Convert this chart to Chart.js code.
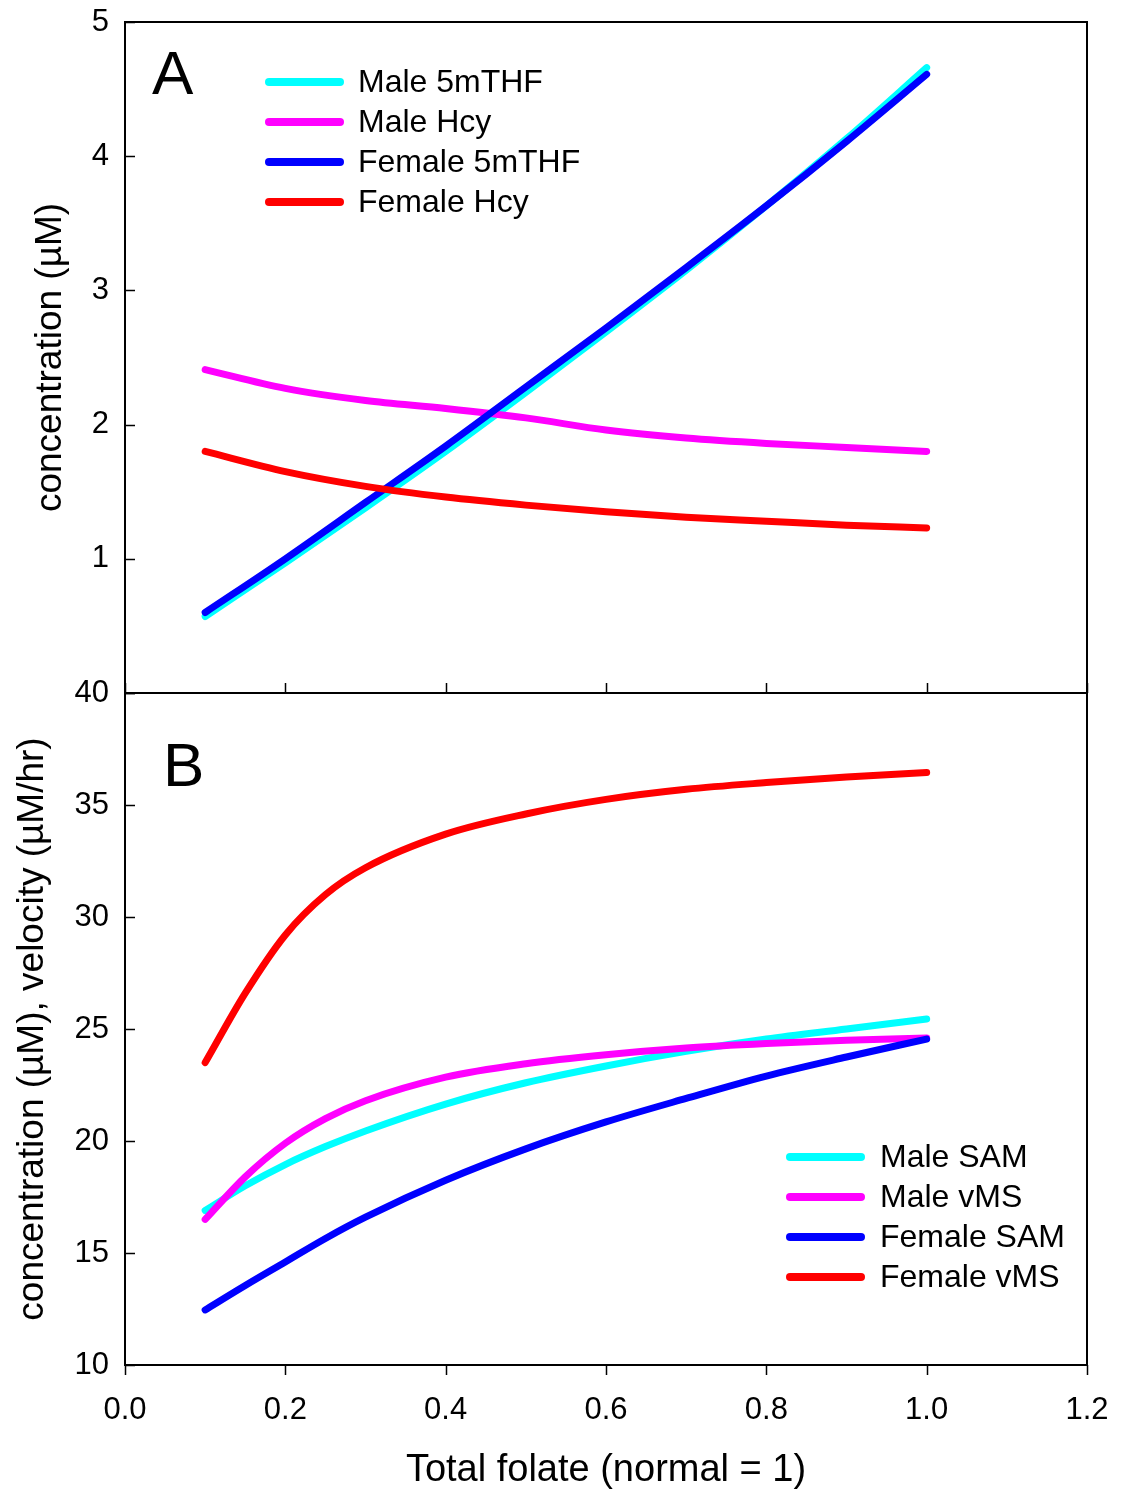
<!DOCTYPE html>
<html><head><meta charset="utf-8">
<script src="https://cdn.jsdelivr.net/npm/chart.js@4.4.1/dist/chart.umd.min.js"></script>
<style>
html,body{margin:0;padding:0;background:#fff;}
#wrap{position:relative;width:1127px;height:1490px;background:#fff;}
canvas{position:absolute;left:0;top:0;}
</style></head><body>
<div id="wrap"><canvas id="cB" width="1127" height="1490"></canvas><canvas id="cA" width="1127" height="1490"></canvas></div>
<script>
// ---------- data ----------
const folateA = [0.1, 0.2, 0.3, 0.4, 0.5, 0.6, 0.7, 0.8, 0.9, 1.0];
const male5mTHF   = [0.57, 0.97, 1.38, 1.80, 2.24, 2.69, 3.15, 3.63, 4.13, 4.66];
const maleHcy     = [2.41, 2.27, 2.18, 2.12, 2.05, 1.96, 1.90, 1.86, 1.83, 1.80];
const female5mTHF = [0.60, 1.00, 1.42, 1.84, 2.28, 2.72, 3.17, 3.63, 4.11, 4.61];
const femaleHcy   = [1.80, 1.65, 1.54, 1.46, 1.40, 1.35, 1.31, 1.28, 1.25, 1.23];

const folateB = [0.1, 0.15, 0.2, 0.25, 0.3, 0.4, 0.5, 0.6, 0.7, 0.8, 0.9, 1.0];
const maleSAM   = [16.9, 18.0, 18.95, 19.75, 20.45, 21.65, 22.6, 23.35, 24.0, 24.55, 25.0, 25.45];
const maleVMS   = [16.5, 18.4, 19.9, 21.0, 21.8, 22.85, 23.45, 23.85, 24.15, 24.35, 24.5, 24.6];
const femaleSAM = [12.46, 13.55, 14.6, 15.65, 16.6, 18.25, 19.65, 20.85, 21.9, 22.9, 23.75, 24.55];
const femaleVMS = [23.5, 26.6, 29.2, 31.0, 32.2, 33.7, 34.6, 35.25, 35.7, 36.0, 36.25, 36.45];

const xTicks = [0.0, 0.2, 0.4, 0.6, 0.8, 1.0, 1.2];
const yTicksA = [0, 1, 2, 3, 4, 5];
const yTicksB = [10, 15, 20, 25, 30, 35, 40];

const labelsA = ['Male 5mTHF', 'Male Hcy', 'Female 5mTHF', 'Female Hcy'];
const labelsB = ['Male SAM', 'Male vMS', 'Female SAM', 'Female vMS'];
const colors = ['#00FFFF', '#FF00FF', '#0000FF', '#FF0000'];

// ---------- helpers ----------
const FONT = '"Liberation Sans", Arial, Helvetica, sans-serif';
Chart.defaults.font.family = FONT;
Chart.defaults.color = '#000';

function pts(xs, ys) { return xs.map((x, i) => ({x: x, y: ys[i]})); }
function makeDatasets(xs, series, labels) {
  return series.map((s, i) => ({
    label: labels[i], data: pts(xs, s),
    borderColor: colors[i], backgroundColor: colors[i],
    borderWidth: 7, borderCapStyle: 'round', borderJoinStyle: 'round',
    pointRadius: 0, cubicInterpolationMode: 'monotone', fill: false,
    order: series.length - 1 - i
  }));
}
function noPad(s) { s.paddingTop = 0; s.paddingBottom = 0; s.paddingLeft = 0; s.paddingRight = 0; }

const framePlugin = {
  id: 'frame',
  afterDatasetsDraw(chart, args, opts) {
    const ctx = chart.ctx, a = chart.chartArea;
    const xs = chart.scales.x, ys = chart.scales.y;
    ctx.save();
    ctx.strokeStyle = '#000'; ctx.lineWidth = 2; ctx.lineCap = 'butt';
    ctx.beginPath();
    if (opts.top) { ctx.moveTo(a.left - 1, a.top); ctx.lineTo(a.right + 1, a.top); }
    ctx.moveTo(a.left, a.top); ctx.lineTo(a.left, a.bottom);
    ctx.moveTo(a.right, a.top); ctx.lineTo(a.right, a.bottom);
    ctx.moveTo(a.left - 1, a.bottom); ctx.lineTo(a.right + 1, a.bottom);
    ctx.stroke();
    ctx.lineWidth = 1.5;
    ctx.beginPath();
    opts.yTicks.forEach(v => {
      const y = Math.round(ys.getPixelForValue(v)) + 0.5;
      ctx.moveTo(a.left, y); ctx.lineTo(a.left + 10, y);
    });
    xTicks.forEach(v => {
      const x = Math.round(xs.getPixelForValue(v)) + 0.5;
      ctx.moveTo(x, a.bottom); ctx.lineTo(x, a.bottom + opts.xTickDir * 10);
    });
    ctx.stroke();
    // panel letter
    ctx.fillStyle = '#000';
    ctx.font = '62px ' + FONT;
    ctx.textBaseline = 'alphabetic'; ctx.textAlign = 'left';
    ctx.fillText(opts.letter, opts.letterX, opts.letterY);
    // legend
    ctx.font = '32px ' + FONT;
    ctx.textBaseline = 'middle';
    chart.data.datasets.forEach((d, i) => {
      const y = opts.legY + i * 40;
      ctx.strokeStyle = d.borderColor; ctx.lineWidth = 8; ctx.lineCap = 'round';
      ctx.beginPath(); ctx.moveTo(opts.legX0, y); ctx.lineTo(opts.legX1, y); ctx.stroke();
      ctx.fillStyle = '#000';
      ctx.fillText(d.label, opts.legTextX, y + 1);
    });
    ctx.restore();
  }
};

// ---------- panel A ----------
new Chart(document.getElementById('cA'), {
  type: 'line',
  data: { datasets: makeDatasets(folateA, [male5mTHF, maleHcy, female5mTHF, femaleHcy], labelsA) },
  options: {
    responsive: false, animation: false, devicePixelRatio: 1,
    layout: { padding: { top: 22, right: 40, bottom: 797, left: 0 } },
    plugins: { legend: { display: false }, tooltip: { enabled: false },
      frame: { top: true, yTicks: yTicksA, xTickDir: -1, letter: 'A', letterX: 152, letterY: 94,
               legX0: 269, legX1: 340, legTextX: 358, legY: 82 } },
    scales: {
      x: { type: 'linear', display: false, min: 0, max: 1.2,
           afterBuildTicks: s => { s.ticks = xTicks.map(v => ({value: v})); },
           afterFit: noPad },
      y: { type: 'linear', min: 0, max: 5,
           afterBuildTicks: s => { s.ticks = yTicksA.map(v => ({value: v})); },
           afterFit: s => { s.width = 125; noPad(s); },
           grid: { display: false, drawTicks: false }, border: { display: false },
           ticks: { font: { size: 31 }, padding: 16, color: '#000',
                    callback: v => v === 0 ? '' : String(v) },
           title: { display: true, text: 'concentration (\u00B5M)', color: '#000',
                    font: { size: 37, lineHeight: 1.2 }, padding: { top: 29, bottom: 0 } } }
    }
  },
  plugins: [framePlugin]
});

// ---------- panel B ----------
new Chart(document.getElementById('cB'), {
  type: 'line',
  data: { datasets: makeDatasets(folateB, [maleSAM, maleVMS, femaleSAM, femaleVMS], labelsB) },
  options: {
    responsive: false, animation: false, devicePixelRatio: 1,
    layout: { padding: { top: 693, right: 40, bottom: 0, left: 0 } },
    plugins: { legend: { display: false }, tooltip: { enabled: false },
      frame: { top: false, yTicks: yTicksB, xTickDir: 1, letter: 'B', letterX: 163, letterY: 786,
               legX0: 790, legX1: 861, legTextX: 880, legY: 1157 } },
    scales: {
      x: { type: 'linear', min: 0, max: 1.2,
           afterBuildTicks: s => { s.ticks = xTicks.map(v => ({value: v})); },
           afterFit: s => { s.height = 125; noPad(s); },
           grid: { display: false, drawTicks: false }, border: { display: false },
           ticks: { font: { size: 31 }, padding: 27, color: '#000', maxRotation: 0,
                    callback: v => Number(v).toFixed(1) },
           title: { display: true, text: 'Total folate (normal = 1)', color: '#000',
                    font: { size: 38, lineHeight: 1 }, padding: { top: 0, bottom: 0 } } },
      y: { type: 'linear', min: 10, max: 40,
           afterBuildTicks: s => { s.ticks = yTicksB.map(v => ({value: v})); },
           afterFit: s => { s.width = 125; noPad(s); },
           grid: { display: false, drawTicks: false }, border: { display: false },
           ticks: { font: { size: 31 }, padding: 16, color: '#000', callback: v => String(v) },
           title: { display: true, text: 'concentration (\u00B5M), velocity (\u00B5M/hr)', color: '#000',
                    font: { size: 37, lineHeight: 1.2 }, padding: { top: 11, bottom: 0 } } }
    }
  },
  plugins: [framePlugin]
});
</script>
</body></html>
